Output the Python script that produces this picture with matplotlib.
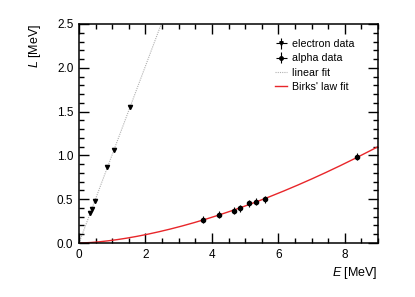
import numpy as np
import matplotlib
matplotlib.use("Agg")
import matplotlib.pyplot as plt
from matplotlib.ticker import MultipleLocator, FormatStrFormatter

plt.rcParams['font.family'] = ['Liberation Sans', 'DejaVu Sans']
plt.rcParams['mathtext.fontset'] = 'custom'
plt.rcParams['mathtext.it'] = 'Liberation Sans:italic'
plt.rcParams['mathtext.rm'] = 'Liberation Sans'

# electron data (E, L) in MeV
e_E = [0.33, 0.39, 0.47, 0.85, 1.05, 1.54]
e_L = [0.345, 0.39, 0.475, 0.865, 1.06, 1.55]
e_err = [0.01, 0.01, 0.01, 0.01, 0.01, 0.01]

# alpha data (E, L) in MeV
a_E = [3.72, 4.20, 4.67, 4.85, 5.13, 5.32, 5.60, 8.36]
a_L = [0.265, 0.32, 0.366, 0.397, 0.452, 0.469, 0.50, 0.983]
a_err = [0.04, 0.04, 0.04, 0.04, 0.04, 0.04, 0.04, 0.04]

fig = plt.figure(figsize=(4.15, 2.97), dpi=100)
ax = fig.add_axes([79/415, 1-243/297, (378-79)/415, (243-24)/297])

# linear fit through origin for electron data
eE = np.array(e_E); eL = np.array(e_L)
slope = np.sum(eE*eL)/np.sum(eE*eE)
xl = np.linspace(0, 9, 200)
lin, = ax.plot(xl, slope*xl, ls=(0, (1, 1)), color='#b0b0b0', lw=0.8, zorder=1)

# Birks' law style fit: power-law fit on alpha data
aE = np.array(a_E); aL = np.array(a_L)
b, ln_a = np.polyfit(np.log(aE), np.log(aL), 1)
xb = np.linspace(0, 9, 300)
birks, = ax.plot(xb, np.exp(ln_a)*xb**b, color='#e8262a', lw=1.0, zorder=2)

ax.errorbar(e_E, e_L, yerr=e_err, fmt='v', color='black', ms=3, elinewidth=0.8,
            capsize=0, zorder=3)
ax.errorbar(a_E, a_L, yerr=a_err, fmt='o', color='black', ms=3, elinewidth=0.8,
            capsize=0, zorder=3)

# legend proxies (ROOT-style "lep" entries), not drawn on data
pe = ax.errorbar([np.nan], [np.nan], xerr=[1], yerr=[1], fmt='v', color='black', ms=2.5,
                 elinewidth=0.8, capsize=0)
pa = ax.errorbar([np.nan], [np.nan], xerr=[1], yerr=[1], fmt='o', color='black', ms=2.5,
                 elinewidth=0.8, capsize=0)

ax.set_xlim(0, 9)
ax.set_ylim(0, 2.5)
ax.xaxis.set_major_locator(MultipleLocator(2))
ax.xaxis.set_minor_locator(MultipleLocator(0.5))
ax.yaxis.set_major_locator(MultipleLocator(0.5))
ax.yaxis.set_minor_locator(MultipleLocator(0.1))
ax.yaxis.set_major_formatter(FormatStrFormatter('%.1f'))
ax.tick_params(which='both', direction='in', top=True, right=True, labelsize=8.5, width=1.0, pad=4)
ax.tick_params(which='major', length=7)
ax.tick_params(which='minor', length=3.5)
for s in ax.spines.values():
    s.set_linewidth(1.1)

ax.set_xlabel(r'$E$ [MeV]', fontsize=9, loc='right', labelpad=3)
ax.set_ylabel(r'$L$ [MeV]', fontsize=9, loc='top', labelpad=10)

ax.legend([pe, pa, lin, birks], ['electron data', 'alpha data', 'linear fit', "Birks' law fit"],
          loc='upper right', frameon=False, fontsize=7.7, handlelength=1.1, handletextpad=0.5,
          bbox_to_anchor=(0.955, 0.975), labelspacing=0.4)

fig.savefig('out.png', dpi=100)
